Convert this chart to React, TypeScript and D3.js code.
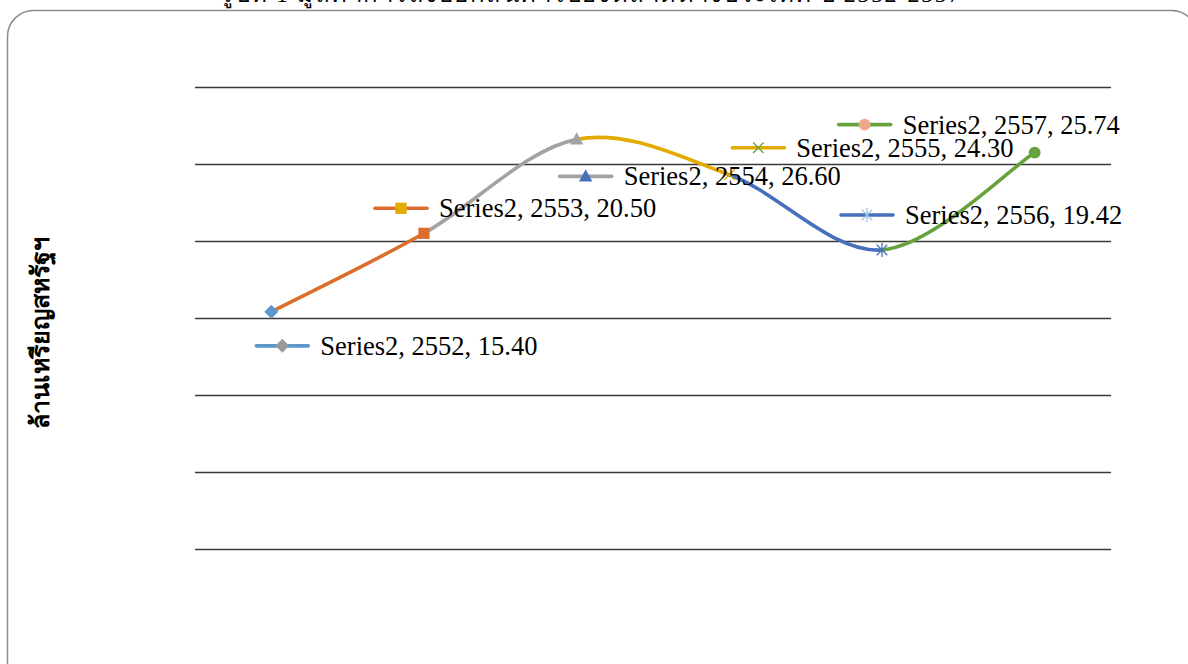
import { useEffect, useRef } from 'react';
import * as d3 from 'd3';

// chart data
const years = ['2552', '2553', '2554', '2555', '2556', '2557'];
const values = [15.4, 20.5, 26.6, 24.3, 19.42, 25.74];
const yTicks = [0, 5, 10, 15, 20, 25, 30];
const seriesName = 'Series2';
const yTitle = 'ล้านเหรียญสหรัฐฯ';
const chartTitle = 'รูปที่ 1 มูลค่าการส่งออกสินค้าไปยังตลาดต่างประเทศ ปี 2552-2557';

// office palette: colour of each point (segment ending there) and the key marker colour
const lineColors = ['#5B97CB', '#DC6E2B', '#A2A2A2', '#E3AA00', '#4670BC', '#68A23E'];
const keyMarkerColors = ['#9A9A9A', '#E3AA00', '#4670BC', '#68A23E', '#9DC3E6', '#F0A88A'];
const markerShapes = ['diamond', 'square', 'triangle', 'x', 'star', 'circle'];

// label offsets from each point (layout only)
const labelOffsets = [
  [-15, 34],
  [-49, -25],
  [-17, 37],
  [3, -27],
  [-41, -35],
  [-196, -28],
];

const W = 1188;
const H = 664;

const App = () => {
  const svgRef = useRef<SVGSVGElement>(null);

  useEffect(() => {
    if (!svgRef.current) return;
    const svg = d3.select(svgRef.current);
    svg.selectAll('*').remove();

    const margin = { left: 195, right: 77, top: 87, bottom: 115 };
    const innerW = W - margin.left - margin.right;
    const innerH = H - margin.top - margin.bottom;

    // chart frame
    svg
      .append('rect')
      .attr('x', 7.5)
      .attr('y', 10.5)
      .attr('width', 1190)
      .attr('height', 700)
      .attr('rx', 26)
      .attr('fill', '#fff')
      .attr('stroke', '#8c8c8c')
      .attr('stroke-width', 1.5);

    // title, mostly cut off by the top of the page (as in the source image)
    svg
      .append('text')
      .attr('x', 220)
      .attr('y', 1.5)
      .attr('font-family', '"Liberation Serif", serif')
      .attr('font-size', 24)
      .attr('textLength', 740)
      .attr('lengthAdjust', 'spacing')
      .text(chartTitle);

    const x = d3.scaleBand<string>().domain(years).range([0, innerW]);
    const y = d3.scaleLinear().domain([0, 30]).range([innerH, 0]);

    const g = svg.append('g').attr('transform', `translate(${margin.left},${margin.top})`);

    // gridlines
    g.selectAll('line.grid')
      .data(yTicks)
      .join('line')
      .attr('class', 'grid')
      .attr('x1', 0)
      .attr('x2', innerW)
      .attr('y1', (d) => Math.round(y(d)) + 0.5)
      .attr('y2', (d) => Math.round(y(d)) + 0.5)
      .attr('stroke', '#3a3a3a')
      .attr('stroke-width', 1.3);

    // y axis title
    svg
      .append('text')
      .attr('transform', 'translate(49,333) rotate(-90)')
      .attr('text-anchor', 'middle')
      .attr('font-family', '"Noto Sans", sans-serif')
      .attr('font-size', 25)
      .attr('font-weight', 'bold')
      .text(yTitle);

    const pts = values.map((v, i) => [x(years[i])! + x.bandwidth() / 2, y(v)]);

    // smoothed segments, each in its own colour
    for (let i = 0; i < pts.length - 1; i++) {
      const p0 = pts[Math.max(0, i - 1)];
      const p1 = pts[i];
      const p2 = pts[i + 1];
      const p3 = pts[Math.min(pts.length - 1, i + 2)];
      const c1 = [p1[0] + (p2[0] - p0[0]) / 6, p1[1] + (p2[1] - p0[1]) / 6];
      const c2 = [p2[0] - (p3[0] - p1[0]) / 6, p2[1] - (p3[1] - p1[1]) / 6];
      const path = d3.path();
      path.moveTo(p1[0], p1[1]);
      path.bezierCurveTo(c1[0], c1[1], c2[0], c2[1], p2[0], p2[1]);
      g.append('path')
        .attr('d', path.toString())
        .attr('fill', 'none')
        .attr('stroke', lineColors[i + 1])
        .attr('stroke-width', 3.6)
        .attr('stroke-linecap', 'round');
    }

    const drawMarker = (
      sel: d3.Selection<SVGGElement, unknown, null, undefined>,
      shape: string,
      color: string,
      cx: number,
      cy: number,
      s: number
    ) => {
      if (shape === 'diamond') {
        sel.append('path')
          .attr('d', `M${cx},${cy - s}L${cx + s},${cy}L${cx},${cy + s}L${cx - s},${cy}Z`)
          .attr('fill', color);
      } else if (shape === 'square') {
        sel.append('rect')
          .attr('x', cx - s * 0.8)
          .attr('y', cy - s * 0.8)
          .attr('width', s * 1.6)
          .attr('height', s * 1.6)
          .attr('fill', color);
      } else if (shape === 'triangle') {
        sel.append('path')
          .attr('d', `M${cx},${cy - s}L${cx + s * 0.95},${cy + s * 0.75}L${cx - s * 0.95},${cy + s * 0.75}Z`)
          .attr('fill', color);
      } else if (shape === 'x') {
        const k = s * 0.75;
        sel.append('path')
          .attr('d', `M${cx - k},${cy - k}L${cx + k},${cy + k}M${cx - k},${cy + k}L${cx + k},${cy - k}`)
          .attr('stroke', color)
          .attr('stroke-width', 1.3);
      } else if (shape === 'star') {
        const k = s * 0.75;
        sel.append('path')
          .attr(
            'd',
            `M${cx - k},${cy - k}L${cx + k},${cy + k}M${cx - k},${cy + k}L${cx + k},${cy - k}M${cx},${cy - s}L${cx},${cy + s}`
          )
          .attr('stroke', color)
          .attr('stroke-width', 1.3);
      } else {
        sel.append('circle').attr('cx', cx).attr('cy', cy).attr('r', s * 0.85).attr('fill', color);
      }
    };

    // point markers
    const mg = g.append('g');
    pts.forEach((p, i) => drawMarker(mg, markerShapes[i], lineColors[i], p[0], p[1], 7));

    // data labels with legend keys
    const lg = g.append('g');
    pts.forEach((p, i) => {
      const kx = p[0] + labelOffsets[i][0];
      const ky = p[1] + labelOffsets[i][1];
      lg.append('line')
        .attr('x1', kx)
        .attr('x2', kx + 52)
        .attr('y1', ky)
        .attr('y2', ky)
        .attr('stroke', lineColors[i])
        .attr('stroke-width', 3.6)
        .attr('stroke-linecap', 'round');
      drawMarker(lg, markerShapes[i], keyMarkerColors[i], kx + 26, ky, 7);
      lg.append('text')
        .attr('x', kx + 64)
        .attr('y', ky + 9)
        .attr('font-family', '"Liberation Serif", "Times New Roman", serif')
        .attr('font-size', 26.5)
        .attr('fill', '#000')
        .text(`${seriesName}, ${years[i]}, ${values[i].toFixed(2)}`);
    });
  }, []);

  return (
    <svg
      ref={svgRef}
      width={W}
      height={H}
      style={{ position: 'absolute', left: 0, top: 0, display: 'block' }}
    />
  );
};

export default App;
